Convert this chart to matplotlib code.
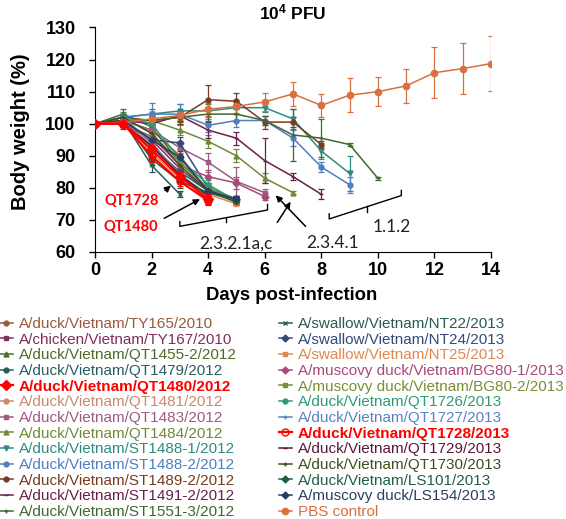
import matplotlib
matplotlib.use('Agg')
import matplotlib.pyplot as plt

plt.rcParams['font.family'] = ['Liberation Sans', 'DejaVu Sans']
plt.rcParams['mathtext.fontset'] = 'custom'
plt.rcParams['mathtext.rm'] = 'Liberation Sans'
plt.rcParams['mathtext.bf'] = 'Liberation Sans:bold'

# Body weight (%) per strain, day 0 onward until last surviving day
ty165 = [100, 101, 98, 90, 79, 76]
ty165_err = [0.5, 1.5, 2, 2, 1.5, 1]
ty167 = [100, 100, 95, 86, 79]
ty167_err = [0.5, 1.5, 2, 2.5, 1.5]
qt1455 = [100, 103, 99, 88, 79.5, 76]
qt1455_err = [0.5, 1.5, 2, 2, 1.5, 1]
qt1479 = [100, 101, 93, 85, 79, 76.5]
qt1479_err = [0.5, 1, 2, 2, 1.5, 1]
qt1480 = [100, 100, 92, 83.5, 76.5]
qt1480_err = [0.5, 1, 2, 1.5, 1.5]
qt1481 = [100, 100, 94, 84, 77]
qt1481_err = [0.5, 1, 2, 1.5, 1]
qt1483 = [100, 101, 98, 92.5, 88, 82, 78.5]
qt1483_err = [0.5, 1, 1.5, 2, 3, 4.5, 1]
qt1484 = [100, 101, 101, 98, 94.5, 90, 83, 78.5]
qt1484_err = [0.5, 1, 1, 1.5, 2, 2, 1.5, 0.5]
st1488_1 = [100, 102, 103, 104, 104, 105, 105, 101.5, 91.5, 84.5]
st1488_1_err = [0.5, 1.5, 1.5, 2, 2, 2, 1.5, 3, 2.5, 5.5]
st1488_2 = [100, 102, 103, 103, 99.5, 101, 101, 95.5, 86.5, 81]
st1488_2_err = [0.5, 1, 3.5, 3, 2, 2, 1.5, 2.5, 1.5, 2.5]
st1489_2 = [100, 102, 101, 102, 107.5, 107, 100.5, 100.5, 93.5]
st1489_2_err = [0.5, 1, 1.5, 2, 4.5, 2.5, 2, 1.5, 1]
st1491_2 = [100, 101, 100, 102.5, 98, 95.5, 88.5, 83.5, 78]
st1491_2_err = [0.5, 1, 1.5, 1.5, 2.5, 2, 7, 1, 1.5]
st1551_3 = [100, 101, 101, 102, 103, 103, 101, 96.5, 95.5, 93.5, 83]
st1551_3_err = [0.5, 1, 1.5, 1.5, 2, 2, 1.5, 8, 6, 0.5, 0.5]
nt22 = [100, 101, 87, 78]
nt22_err = [0.5, 1, 2, 1]
nt24 = [100, 101, 95, 94, 80, 76.5]
nt24_err = [0.5, 1, 2, 2, 1.5, 1]
nt25 = [100, 101, 91, 83, 78, 75]
nt25_err = [0.5, 1, 1.5, 1.5, 1, 0.5]
bg80_1 = [100, 100, 96, 87, 83.5, 81.5, 77.3]
bg80_1_err = [0.5, 1, 2, 2, 2, 2, 1]
bg80_2 = [100, 102, 97, 88, 80, 76]
bg80_2_err = [0.5, 1, 2, 2, 1.5, 1]
qt1726 = [100, 102, 100, 89, 81, 76]
qt1726_err = [0.5, 1, 2, 2, 1.5, 1]
qt1727 = [100, 102, 94, 84, 78]
qt1727_err = [0.5, 1, 2, 2, 1.5]
qt1728 = [100, 100, 90, 82, 76]
qt1728_err = [0.5, 1, 2, 1.5, 1.5]
qt1729 = [100, 100, 93, 84, 77.5]
qt1729_err = [0.5, 1, 2, 1.5, 1]
qt1730 = [100, 102, 97, 87, 79, 75.5]
qt1730_err = [0.5, 1, 2, 2, 1.5, 1]
ls101 = [100, 101, 89, 82, 78.5, 76]
ls101_err = [0.5, 1, 2, 2, 1.5, 1]
ls154 = [100, 101, 95, 89.5, 79, 76.5]
ls154_err = [0.5, 1, 2, 2, 1.5, 1]
pbs = [100, 100.5, 101.5, 102.6, 104.5, 105.4, 106.8, 109.3, 105.7, 108.9, 110, 111.8, 115.9, 117.2, 118.75]
pbs_err = [0.5, 1, 1.5, 1.5, 2, 2, 2.9, 3.7, 3.7, 5.2, 4.6, 5.4, 7.9, 7.9, 8.5]

labels = [
    'A/duck/Vietnam/TY165/2010', 'A/chicken/Vietnam/TY167/2010',
    'A/duck/Vietnam/QT1455-2/2012', 'A/duck/Vietnam/QT1479/2012',
    'A/duck/Vietnam/QT1480/2012', 'A/duck/Vietnam/QT1481/2012',
    'A/duck/Vietnam/QT1483/2012', 'A/duck/Vietnam/QT1484/2012',
    'A/duck/Vietnam/ST1488-1/2012', 'A/duck/Vietnam/ST1488-2/2012',
    'A/duck/Vietnam/ST1489-2/2012', 'A/duck/Vietnam/ST1491-2/2012',
    'A/duck/Vietnam/ST1551-3/2012',
    'A/swallow/Vietnam/NT22/2013', 'A/swallow/Vietnam/NT24/2013',
    'A/swallow/Vietnam/NT25/2013', 'A/muscovy duck/Vietnam/BG80-1/2013',
    'A/muscovy duck/Vietnam/BG80-2/2013', 'A/duck/Vietnam/QT1726/2013',
    'A/duck/Vietnam/QT1727/2013', 'A/duck/Vietnam/QT1728/2013',
    'A/duck/Vietnam/QT1729/2013', 'A/duck/Vietnam/QT1730/2013',
    'A/duck/Vietnam/LS101/2013', 'A/muscovy duck/LS154/2013', 'PBS control',
]
values = [ty165, ty167, qt1455, qt1479, qt1480, qt1481, qt1483, qt1484,
          st1488_1, st1488_2, st1489_2, st1491_2, st1551_3,
          nt22, nt24, nt25, bg80_1, bg80_2, qt1726, qt1727, qt1728,
          qt1729, qt1730, ls101, ls154, pbs]
errors = [ty165_err, ty167_err, qt1455_err, qt1479_err, qt1480_err, qt1481_err,
          qt1483_err, qt1484_err, st1488_1_err, st1488_2_err, st1489_2_err,
          st1491_2_err, st1551_3_err, nt22_err, nt24_err, nt25_err, bg80_1_err,
          bg80_2_err, qt1726_err, qt1727_err, qt1728_err, qt1729_err,
          qt1730_err, ls101_err, ls154_err, pbs_err]

colors = ['#9b5a3c', '#7f2f5a', '#4e6b2a', '#2a5e5e', '#ff0000', '#c98a6e',
          '#a05a80', '#6f8a3a', '#2e8b80', '#4f7fbf', '#7a3a20', '#6a2048',
          '#3f6a2f', '#2a5a55', '#334a7a', '#e08850', '#a84a78', '#7a8f35',
          '#2e9a7a', '#5a82c2', '#ff0000', '#5a1838', '#3f4f1f', '#1f6045',
          '#2a3f60', '#d97040']
markers = ['o', 's', '^', 'o', 'D', 'o', 's', '^', 'v', 'o', 'o', '_', '+',
           'x', 'D', 's', 'D', 's', 'o', '+', 'o', '_', '+', 'D', 'D', 'o']
bold = {'A/duck/Vietnam/QT1480/2012', 'A/duck/Vietnam/QT1728/2013'}

fig = plt.figure(figsize=(5.66, 5.19), dpi=100)
ax = fig.add_axes([95 / 566, 1 - 252 / 519, 396 / 566, 224.5 / 519])

handles = []
for lab, v, e, c, m in zip(labels, values, errors, colors, markers):
    is_red = lab in bold
    ms = 5 if is_red else (4.5 if lab == 'PBS control' else 3.5)
    cont = ax.errorbar(range(len(v)), v, yerr=e, color=c, marker=m,
                       markersize=ms, lw=1.6 if is_red else 1.1,
                       elinewidth=0.9, capsize=2, capthick=0.9,
                       mfc='none' if lab == 'A/duck/Vietnam/QT1728/2013' else c,
                       zorder=4 if is_red else 3)
    handles.append(cont[0])

ax.set_xlim(0, 14)
ax.set_ylim(60, 130)
ax.set_xticks(range(0, 15, 2))
ax.set_yticks(range(60, 131, 10))
ax.spines['top'].set_visible(False)
ax.spines['right'].set_visible(False)
ax.tick_params(direction='out', length=4, width=1, labelsize=13)
ax.tick_params(axis='y', pad=10)
for t in ax.get_xticklabels() + ax.get_yticklabels():
    t.set_fontweight('bold')

ax.set_title(r'$\mathbf{10^4}$ PFU', fontsize=12.5, fontweight='bold', pad=6)
ax.set_ylabel('Body weight (%)', fontsize=14.5, fontweight='bold')
ax.yaxis.set_label_coords(-0.165, 0.535)
ax.set_xlabel('Days post-infection', fontsize=13.3, fontweight='bold')
ax.xaxis.set_label_coords(0.497, -0.158)

# strain labels and arrows
ax.text(1.28, 76.0, 'QT1728', color='red', fontsize=10.5, fontweight='bold',
        family='Lato', ha='center', va='center')
ax.text(1.28, 67.9, 'QT1480', color='red', fontsize=10.5, fontweight='bold',
        family='Lato', ha='center', va='center')
arrow = dict(arrowstyle='-|>', color='black', lw=1.1, mutation_scale=9)
ax.annotate('', xy=(2.76, 81.25), xytext=(2.4, 78.6), arrowprops=arrow)
ax.annotate('', xy=(3.8, 76.9), xytext=(2.36, 70.1), arrowprops=arrow)
ax.annotate('', xy=(6.32, 78.3), xytext=(7.51, 67.4), arrowprops=arrow)
ax.annotate('', xy=(6.97, 76.4), xytext=(6.39, 68.5), arrowprops=arrow)

# clade brackets
ax.plot([3.0, 3.0, 6.1, 6.1], [69.5, 68.0, 73.1, 74.8], color='black', lw=1)
ax.plot([4.64, 4.64], [70.6, 69.2], color='black', lw=1)
ax.plot([8.28, 8.28, 10.83, 10.83], [71.9, 70.3, 77.6, 79.2], color='black', lw=1)
ax.plot([9.6, 9.6], [74.2, 72.6], color='black', lw=1)
ax.text(4.98, 62.7, '2.3.2.1a,c', fontsize=12.5, family='Lato', ha='center', va='center', color='#222222')
ax.text(8.38, 62.7, '2.3.4.1', fontsize=12.5, family='Lato', ha='center', va='center', color='#222222')
ax.text(10.5, 67.9, '1.1.2', fontsize=12.5, family='Lato', ha='center', va='center', color='#222222')

legend_kw = dict(loc='upper left', frameon=False, fontsize=11, labelspacing=0.11,
                 handlelength=0.85, handletextpad=0.4, borderaxespad=0, borderpad=0,
                 labelcolor='linecolor')
leg1 = fig.legend(handles[:13], labels[:13], bbox_to_anchor=(0.0, 1 - 317 / 519), **legend_kw)
leg2 = fig.legend(handles[13:], labels[13:], bbox_to_anchor=(279 / 566, 1 - 317 / 519), **legend_kw)
for leg in (leg1, leg2):
    for t in leg.get_texts():
        if t.get_text() in bold:
            t.set_fontweight('bold')

fig.savefig('out.png', dpi=100)
